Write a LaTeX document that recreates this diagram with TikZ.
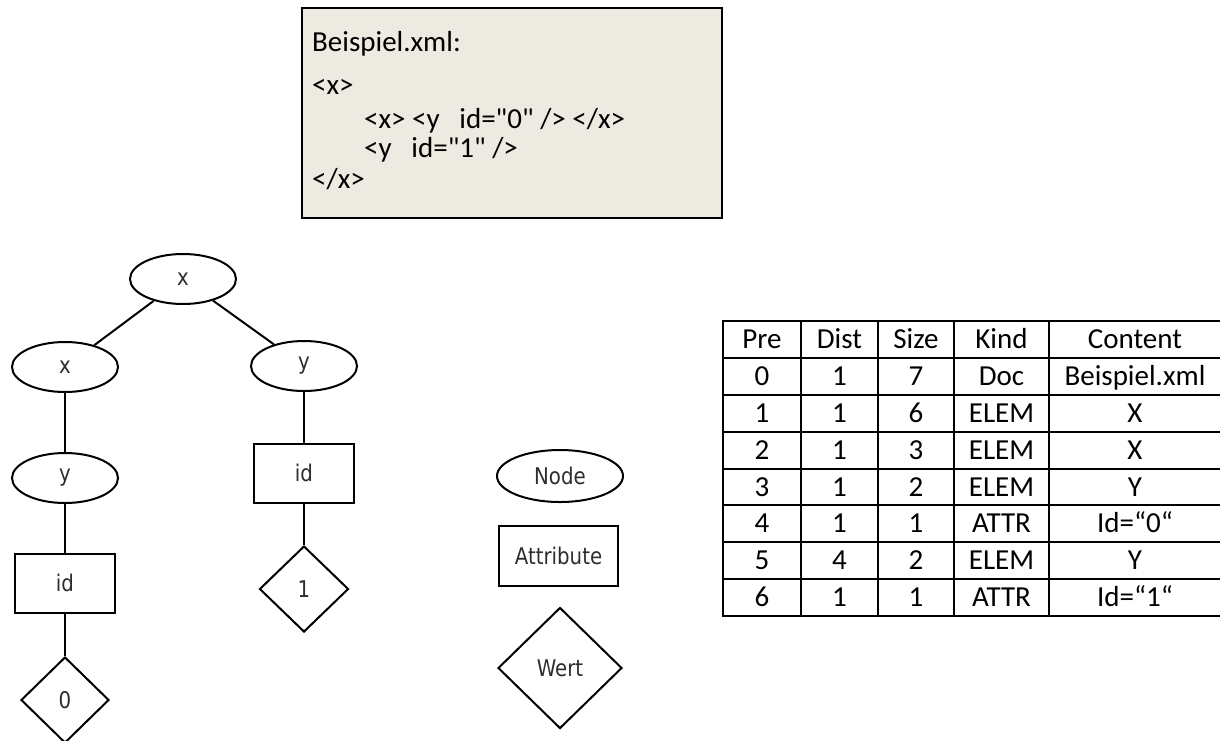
\documentclass[tikz,border=0pt]{standalone}
\usepackage{fontspec}
\setmainfont{Carlito}
% same face without the TeX quote mapping, so " stays straight
\newfontfamily\codefont{Carlito}
\newfontfamily\treefont[FakeStretch=0.86]{DejaVu Sans}
\usetikzlibrary{shapes.geometric}
\definecolor{codebg}{RGB}{237,234,225}
\definecolor{treetext}{RGB}{45,45,45}

\begin{document}
\begin{tikzpicture}[x=1pt,y=-1pt,
  treenode/.style={draw, line width=2pt, inner sep=0pt, text=treetext,
    font=\treefont\fontsize{23}{27}\selectfont},
  elem/.style={treenode, ellipse, minimum width=106pt, minimum height=50pt},
  attr/.style={treenode, rectangle, minimum width=100pt, minimum height=59pt},
  wert/.style={treenode, diamond, minimum width=88pt, minimum height=86pt},
  edge/.style={line width=2pt},
  codeline/.style={anchor=base west, inner sep=0pt, font=\codefont\fontsize{29}{35}\selectfont},
  cell/.style={anchor=base, inner sep=0pt, font=\fontsize{29}{35}\selectfont},
  grid/.style={line width=2pt, line cap=rect}]
\useasboundingbox (0,0) rectangle (1220,740);

% source file box
\draw[line width=2pt, fill=codebg] (302,8) rectangle (722,218);
\node[codeline] (title) at (312,51) {Beispiel.xml:};
\node[codeline] (l1) at (312,94) {<x>};
\node[codeline] (l2) at (364,128) {<x> <y\ \ \ id="0" /> </x>};
\node[codeline] (l3) at (364,157) {<y\ \ \ id="1" />};
\node[codeline] (l4) at (312,188) {</x>};

% tree
\node[elem] (root) at (183,279) {x};
\node[elem] (lx) at (65,367) {x};
\node[elem] (ry) at (304,366) {y};
\node[elem] (ly) at (65,478) {y};
\node[attr] (lid) at (65,583) {id};
\node[attr] (rid) at (304,473) {id};
\node[wert] (v0) at (65,700) {0};
\node[wert, minimum width=89pt] (v1) at (304,589) {1};

\draw[edge] (root) -- (lx);
\draw[edge] (root) -- (ry);
\draw[edge] (lx) -- (ly);
\draw[edge] (ly) -- (lid);
\draw[edge] (lid) -- (v0);
\draw[edge] (ry) -- (rid);
\draw[edge] (rid) -- (v1);

% legend
\node[elem, minimum width=126pt, minimum height=52pt] (legnode) at (560,476) {Node};
\node[attr, minimum width=119pt, minimum height=60pt] (legattr) at (558.5,556) {Attribute};
\node[wert, minimum width=124pt, minimum height=121pt] (legwert) at (560,668) {Wert};

% table
\foreach \cx in {723,801,878,954,1049,1222}
  \draw[grid] (\cx,321) -- (\cx,616);
\foreach \r in {0,...,8}
  \draw[grid] (723,321+36.875*\r) -- (1222,321+36.875*\r);
\foreach \r/\a/\b/\c/\d/\e in {
  0/Pre/Dist/Size/Kind/Content,
  1/0/1/7/Doc/Beispiel.xml,
  2/1/1/6/ELEM/X,
  3/2/1/3/ELEM/X,
  4/3/1/2/ELEM/Y,
  5/4/1/1/ATTR/Id=“0“,
  6/5/4/2/ELEM/Y,
  7/6/1/1/ATTR/Id=“1“}{
  \node[cell] at (762,348.5+36.875*\r) {\a};
  \node[cell] at (839.5,348.5+36.875*\r) {\b};
  \node[cell] at (916,348.5+36.875*\r) {\c};
  \node[cell] at (1001.5,348.5+36.875*\r) {\d};
  \node[cell] at (1135,348.5+36.875*\r) {\e};
}
\end{tikzpicture}
\end{document}
